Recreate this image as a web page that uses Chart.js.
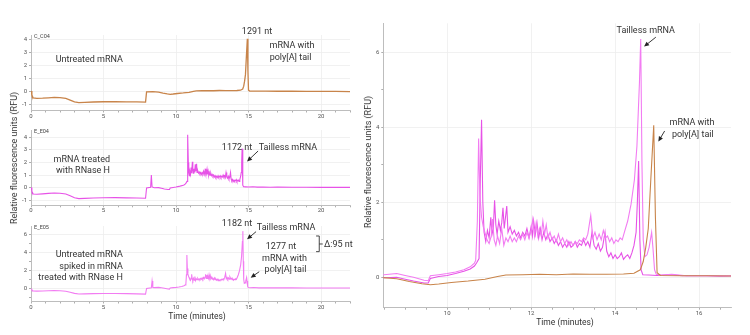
<!DOCTYPE html>
<html>
<head>
<meta charset="utf-8">
<script src="https://cdn.jsdelivr.net/npm/chart.js@4.4.1/dist/chart.umd.min.js"></script>
<style>
  body { margin:0; background:#fff; width:750px; height:335px; position:relative; overflow:hidden; font-family:Roboto, sans-serif; }
  canvas { position:absolute; }
  .ttl { position:absolute; color:#333; white-space:nowrap; transform:translate(-50%,-50%); }
  .rot { transform:translate(-50%,-50%) rotate(-90deg); }
</style>
</head>
<body>
<canvas id="p1" width="362" height="100" style="left:0;top:22px"></canvas>
<canvas id="p2" width="362" height="100" style="left:0;top:117px"></canvas>
<canvas id="p3" width="370" height="100" style="left:0;top:212px"></canvas>
<canvas id="p4" width="388" height="308" style="left:362px;top:10px"></canvas>

<div class="ttl rot" style="left:14px;top:158px;font-size:9px">Relative fluorescence units (RFU)</div>
<div class="ttl" style="left:197px;top:316px;font-size:8.5px">Time (minutes)</div>
<div class="ttl rot" style="left:368px;top:162px;font-size:9px">Relative fluorescence units (RFU)</div>
<div class="ttl" style="left:565px;top:322px;font-size:8.5px">Time (minutes)</div>

<script>
// [time (min), RFU]
const c04 = [
  [0,0.05],[0.06,-0.25],[0.15,-0.48],[0.4,-0.52],[0.8,-0.5],[1.2,-0.47],[1.6,-0.44],[2.0,-0.46],
  [2.4,-0.52],[2.7,-0.64],[3.0,-0.78],[3.3,-0.84],[3.7,-0.82],[4.3,-0.79],[5.0,-0.77],[5.8,-0.76],
  [6.6,-0.78],[7.3,-0.78],[7.9,-0.8],[7.97,-0.02],[8.4,0.0],[8.8,-0.04],[9.1,-0.11],[9.4,-0.17],
  [9.6,-0.2],[9.8,-0.18],[10.1,-0.14],[10.5,-0.1],[10.9,-0.05],[11.2,0.02],[11.4,0.06],[11.8,0.07],
  [12.2,0.08],[12.6,0.07],[13.0,0.09],[13.4,0.08],[13.8,0.08],[14.2,0.09],[14.45,0.11],[14.6,0.2],
  [14.67,0.42],[14.73,0.8],[14.79,1.3],[14.85,2.6],[14.92,4.05],[14.96,1.6],[15.0,0.12],[15.08,0.05],
  [15.6,0.04],[16.2,0.04],[17,0.03],[18,0.03],[19,0.02],[20,0.02],[21,0.02],[22,0.01]
];

const e04 = [
  [0,0.02],[0.06,-0.28],[0.15,-0.5],[0.4,-0.52],[0.8,-0.49],[1.2,-0.45],[1.6,-0.42],[2.0,-0.44],
  [2.4,-0.5],[2.7,-0.64],[3.0,-0.8],[3.3,-0.87],[3.7,-0.85],[4.3,-0.82],[5.0,-0.8],[5.8,-0.79],
  [6.6,-0.81],[7.3,-0.82],[7.9,-0.84],[7.97,-0.02],[8.25,0.03],[8.3,1.0],[8.35,0.06],[8.5,-0.01],
  [8.8,0.0],[9.0,-0.05],[9.2,-0.1],[9.45,-0.15],[9.55,-0.15],[9.6,-0.03],[9.8,0.02],[10.0,0.05],
  [10.2,0.1],[10.4,0.16],[10.55,0.22],[10.65,0.3],[10.7,0.38],[10.76,0.5],[10.79,2.6],[10.82,4.2],
  [10.85,2.0],[10.88,1.2],[10.92,0.95],[10.96,1.25],[11.0,1.05],[11.04,1.6],[11.07,1.15],[11.1,1.3],
  [11.13,2.05],[11.16,1.4],[11.19,1.15],[11.23,1.5],[11.27,1.25],[11.3,1.45],[11.33,1.85],[11.36,1.3],
  [11.39,1.6],[11.42,1.9],[11.45,1.2],[11.5,1.35],[11.55,1.15],[11.6,1.25],[11.65,1.1],[11.7,1.2],
  [11.75,1.05],[11.8,1.2],[11.85,1.1],[11.9,1.3],[11.95,1.05],[12.0,1.35],[12.03,1.1],[12.06,1.5],
  [12.1,1.15],[12.14,1.45],[12.18,1.05],[12.22,1.3],[12.26,1.0],[12.3,1.2],[12.35,1.0],[12.4,1.15],
  [12.45,0.95],[12.5,1.05],[12.55,0.9],[12.6,1.0],[12.65,0.85],[12.7,0.95],[12.75,0.8],[12.8,0.9],
  [12.85,0.8],[12.9,0.95],[12.95,0.8],[13.0,0.85],[13.05,0.95],[13.1,0.8],[13.15,0.9],[13.2,0.85],
  [13.25,1.0],[13.3,0.85],[13.35,0.95],[13.4,0.8],[13.45,1.2],[13.5,0.85],[13.55,0.75],[13.6,0.9],
  [13.65,0.7],[13.7,0.8],[13.76,1.2],[13.8,0.7],[13.85,0.55],[13.9,0.65],[13.95,0.5],[14.0,0.6],
  [14.05,0.5],[14.1,0.55],[14.15,0.65],[14.2,0.48],[14.25,0.55],[14.3,0.6],[14.35,0.5],[14.4,0.65],
  [14.45,0.85],[14.5,1.2],[14.53,2.0],[14.56,3.1],[14.59,1.0],[14.62,0.2],[14.66,0.07],[14.8,0.06],
  [15.0,0.05],[15.3,0.07],[15.6,0.04],[16.0,0.05],[16.5,0.03],[17,0.04],[18,0.03],[19,0.03],
  [20,0.02],[21,0.02],[22,0.02]
];

const e05 = [
  [0,-0.05],[0.06,-0.22],[0.15,-0.3],[0.4,-0.32],[0.8,-0.3],[1.2,-0.27],[1.6,-0.25],[2.0,-0.27],
  [2.4,-0.33],[2.7,-0.45],[3.0,-0.57],[3.3,-0.63],[3.7,-0.62],[4.3,-0.6],[5.0,-0.58],[5.8,-0.58],
  [6.6,-0.6],[7.3,-0.62],[7.9,-0.65],[7.97,-0.02],[8.3,0.05],[8.35,0.8],[8.4,0.08],[8.5,0.07],
  [8.8,0.1],[9.0,0.05],[9.2,0.0],[9.45,-0.08],[9.55,-0.09],[9.6,0.04],[9.8,0.07],[10.0,0.1],
  [10.2,0.14],[10.4,0.2],[10.55,0.28],[10.65,0.38],[10.68,0.45],[10.72,1.5],[10.75,3.7],[10.78,2.2],
  [10.82,1.6],[10.86,1.35],[10.9,1.2],[10.95,1.0],[11.0,0.9],[11.05,1.1],[11.08,1.55],[11.12,1.0],
  [11.16,0.85],[11.2,1.1],[11.25,0.9],[11.3,1.3],[11.35,0.85],[11.4,1.05],[11.45,0.95],[11.5,1.1],
  [11.55,0.95],[11.6,1.05],[11.65,0.95],[11.7,1.1],[11.75,1.0],[11.8,1.15],[11.85,1.0],[11.9,1.2],
  [11.95,1.05],[12.0,1.25],[12.04,1.55],[12.08,1.1],[12.12,1.45],[12.16,1.1],[12.2,1.3],[12.24,1.1],
  [12.28,1.5],[12.32,1.15],[12.36,1.4],[12.4,1.05],[12.45,1.2],[12.5,1.0],[12.55,1.1],[12.6,0.95],
  [12.65,1.15],[12.7,0.95],[12.75,1.05],[12.8,0.9],[12.85,1.0],[12.9,0.85],[12.95,0.95],[13.0,0.85],
  [13.05,0.95],[13.1,0.9],[13.15,1.0],[13.2,0.95],[13.25,1.05],[13.3,1.0],[13.35,1.15],[13.42,1.65],
  [13.47,1.05],[13.52,1.2],[13.57,1.0],[13.62,1.15],[13.67,1.0],[13.72,1.25],[13.77,1.05],[13.82,1.1],
  [13.87,0.95],[13.92,1.05],[13.97,0.9],[14.02,1.0],[14.07,0.95],[14.12,1.05],[14.17,1.0],[14.22,1.2],
  [14.3,1.5],[14.38,1.95],[14.46,2.6],[14.52,3.5],[14.58,5.2],[14.61,6.35],[14.64,3.0],[14.67,1.0],
  [14.71,0.55],[14.76,0.6],[14.81,0.8],[14.87,1.2],[14.9,0.8],[14.94,0.2],[14.98,0.08],[15.1,0.06],
  [15.35,0.08],[15.7,0.04],[16.1,0.05],[16.6,0.04],[17,0.04],[18,0.04],[19,0.03],[20,0.03],
  [21,0.03],[22,0.03]
];

// tick labels
const fullTimeLabels = [0, 5, 10, 15, 20];
const zoomTimeLabels = [10, 12, 14, 16];
const rfuLabelsSmall = [-1, 0, 1, 2, 3, 4];
const rfuLabelsTall = [0, 2, 4, 6];

const brown = '#c8844a';
const magenta = '#e752e7';
const pink = '#f27cf2';

const pts = arr => arr.map(p => ({ x: p[0], y: p[1] }));

function tickRange(from, to, step) {
  const out = [];
  for (let v = from; v <= to + 1e-9; v += step) out.push({ value: Math.round(v * 100) / 100 });
  return out;
}

// text / arrows / bracket drawn in data coordinates
function notesPlugin(items) {
  return {
    id: 'notes',
    afterDatasetsDraw(chart) {
      const ctx = chart.ctx;
      const px = t => chart.scales.x.getPixelForValue(t);
      const py = v => chart.scales.y.getPixelForValue(v);
      ctx.save();
      items.forEach(n => {
        if (n.text) {
          ctx.font = (n.size || 9) + 'px Roboto';
          ctx.fillStyle = n.color || '#333';
          ctx.textAlign = n.align || 'center';
          ctx.textBaseline = 'middle';
          ctx.fillText(n.text, px(n.t), py(n.v));
        } else if (n.arrow) {
          const [t1, v1, t2, v2] = n.arrow;
          const x1 = px(t1), y1 = py(v1), x2 = px(t2), y2 = py(v2);
          const a = Math.atan2(y2 - y1, x2 - x1);
          ctx.strokeStyle = '#222';
          ctx.fillStyle = '#222';
          ctx.lineWidth = 0.9;
          ctx.beginPath(); ctx.moveTo(x1, y1); ctx.lineTo(x2 - 3 * Math.cos(a), y2 - 3 * Math.sin(a)); ctx.stroke();
          ctx.beginPath();
          ctx.moveTo(x2, y2);
          ctx.lineTo(x2 - 5 * Math.cos(a) + 2.3 * Math.sin(a), y2 - 5 * Math.sin(a) - 2.3 * Math.cos(a));
          ctx.lineTo(x2 - 5 * Math.cos(a) - 2.3 * Math.sin(a), y2 - 5 * Math.sin(a) + 2.3 * Math.cos(a));
          ctx.closePath(); ctx.fill();
        } else if (n.path) {
          ctx.strokeStyle = '#333';
          ctx.lineWidth = 0.9;
          ctx.beginPath();
          n.path.forEach((p, i) => i ? ctx.lineTo(px(p[0]), py(p[1])) : ctx.moveTo(px(p[0]), py(p[1])));
          ctx.stroke();
        }
      });
      ctx.restore();
    }
  };
}

function axis(opt, isX) {
  return {
    type: 'linear',
    min: opt.min, max: opt.max,
    afterBuildTicks: s => { s.ticks = tickRange(opt.from, opt.to, opt.step); },
    afterFit: s => { if (isX) s.height = opt.size; else s.width = opt.size; },
    ticks: {
      autoSkip: false, maxRotation: 0, padding: isX ? 0 : 2,
      font: { family: 'Roboto', size: 6 }, color: '#555',
      callback: v => opt.labels.includes(v) ? String(v) : ''
    },
    grid: {
      color: c => (c.tick && opt.labels.includes(c.tick.value)) ? '#ededed' : 'rgba(0,0,0,0)',
      tickColor: '#999', tickLength: 2, lineWidth: 0.8
    },
    border: { color: '#bdbdbd', width: 1 }
  };
}

function makePanel(id, series, cfg) {
  return new Chart(document.getElementById(id), {
    type: 'line',
    data: {
      datasets: series.map(s => ({
        data: pts(s.data), borderColor: s.color, borderWidth: s.width || 1,
        pointRadius: 0, tension: 0, fill: false
      }))
    },
    options: {
      responsive: false, animation: false, devicePixelRatio: 1,
      layout: { padding: cfg.pad },
      plugins: { legend: { display: false }, tooltip: { enabled: false } },
      scales: { x: axis(cfg.x, true), y: axis(cfg.y, false) }
    },
    plugins: [notesPlugin(cfg.notes)]
  });
}

const leftX = { min: 0, max: 22, from: 0, to: 22, step: 1, labels: fullTimeLabels };

makePanel('p1', [{ data: c04, color: brown, width: 1.3 }], {
  pad: { left: 0, right: 12, top: 13, bottom: 0 },
  x: { ...leftX, size: 11.5 },
  y: { min: -1.44, max: 4.33, from: -1, to: 4, step: 1, labels: rfuLabelsSmall, size: 31 },
  notes: [
    { text: 'C_C04', t: 0.21, v: 4.18, size: 5.5, align: 'left', color: '#444' },
    { text: 'Untreated mRNA', t: 6.34, v: 2.42, align: 'right' },
    { text: '1291 nt', t: 15.59, v: 4.6 },
    { text: 'mRNA with', t: 18.0, v: 3.49 },
    { text: 'poly[A] tail', t: 17.9, v: 2.61 }
  ]
});

makePanel('p2', [{ data: e04, color: magenta, width: 1.1 }], {
  pad: { left: 0, right: 12, top: 13, bottom: 0 },
  x: { ...leftX, size: 11.7 },
  y: { min: -1.4, max: 4.58, from: -1, to: 4, step: 1, labels: rfuLabelsSmall, size: 31 },
  notes: [
    { text: 'E_E04', t: 0.21, v: 4.45, size: 5.5, align: 'left', color: '#444' },
    { text: 'mRNA treated', t: 5.45, v: 2.25, align: 'right' },
    { text: 'with RNase H', t: 5.45, v: 1.33, align: 'right' },
    { text: '1172 nt', t: 14.21, v: 3.21 },
    { text: 'Tailless mRNA', t: 17.72, v: 3.17 },
    { arrow: [15.66, 2.91, 14.9, 2.08] }
  ]
});

makePanel('p3', [{ data: e05, color: pink, width: 1.1 }], {
  pad: { left: 0, right: 20, top: 14, bottom: 0 },
  x: { ...leftX, size: 10.5 },
  y: { min: -1.47, max: 6.92, from: -1, to: 6, step: 1, labels: rfuLabelsTall, size: 31 },
  notes: [
    { text: 'E_E05', t: 0.21, v: 6.7, size: 5.5, align: 'left', color: '#444' },
    { text: '1182 nt', t: 14.21, v: 7.14 },
    { text: 'Tailless mRNA', t: 17.59, v: 6.73 },
    { arrow: [15.52, 6.29, 14.9, 5.44] },
    { text: '1277 nt', t: 17.24, v: 4.62 },
    { text: 'mRNA with', t: 17.48, v: 3.26 },
    { text: 'poly[A] tail', t: 17.55, v: 2.03 },
    { arrow: [15.74, 1.84, 15.15, 1.18] },
    { path: [[19.66, 5.81], [19.88, 5.81], [19.88, 4.07], [19.66, 4.07]] },
    { path: [[19.88, 4.92], [20.12, 4.92]] },
    { text: 'Δ:95 nt', t: 20.2, v: 4.89, align: 'left' },
    { text: 'Untreated mRNA', t: 6.34, v: 3.78, align: 'right' },
    { text: 'spiked in mRNA', t: 6.34, v: 2.4, align: 'right' },
    { text: 'treated with RNase H', t: 6.34, v: 1.18, align: 'right' }
  ]
});

makePanel('p4', [
  { data: c04, color: brown, width: 1.1 },
  { data: e05, color: pink, width: 1.1 },
  { data: e04, color: magenta, width: 1.1 }
], {
  pad: { left: 0, right: 19, top: 13.3, bottom: 0 },
  x: { min: 8.48, max: 16.76, from: 8.5, to: 16.5, step: 0.5, labels: zoomTimeLabels, size: 10.3 },
  y: { min: -0.81, max: 6.77, from: 0, to: 6, step: 1, labels: rfuLabelsTall, size: 21.3 },
  notes: [
    { text: 'Tailless mRNA', t: 14.73, v: 6.57 },
    { arrow: [14.97, 6.4, 14.69, 6.15] },
    { text: 'mRNA with', t: 15.83, v: 4.11 },
    { text: 'poly[A] tail', t: 15.85, v: 3.79 },
    { arrow: [15.18, 3.9, 15.03, 3.62] }
  ]
});
</script>
</body>
</html>
